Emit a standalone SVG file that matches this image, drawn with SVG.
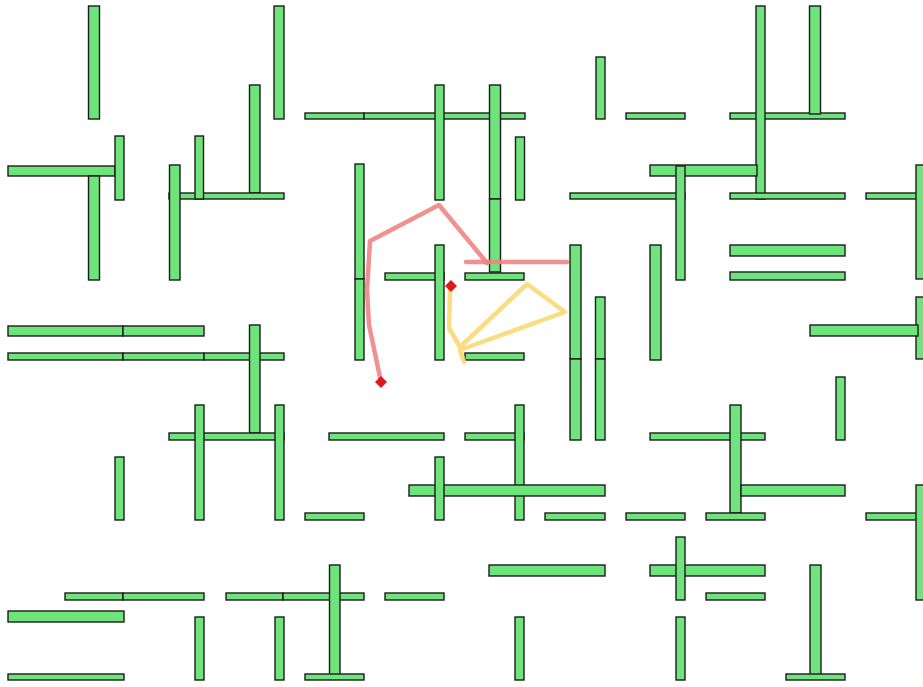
<svg xmlns="http://www.w3.org/2000/svg" width="923" height="687" viewBox="0 0 923 687">
<style>
.w{fill:#6fe47c;stroke:#1c1c1c;stroke-width:1.4}
.red{fill:none;stroke:#f08484;stroke-width:4.5;stroke-linejoin:round;stroke-linecap:round;opacity:0.9}
.yel{fill:none;stroke:#fbd872;stroke-width:4.5;stroke-linejoin:round;stroke-linecap:round;opacity:0.9}
.mk{fill:#e01820}
</style>
<rect width="923" height="687" fill="#ffffff"/>
<g id="walls">
<rect class="w" x="88.5" y="6" width="11" height="113"/>
<rect class="w" x="274" y="6" width="10" height="113"/>
<rect class="w" x="305" y="113" width="59" height="6"/>
<rect class="w" x="364" y="113" width="161" height="6"/>
<rect class="w" x="435" y="85" width="9" height="115"/>
<rect class="w" x="489.5" y="85" width="11" height="114"/>
<rect class="w" x="489.5" y="199" width="11" height="73"/>
<rect class="w" x="515.5" y="137" width="9" height="63"/>
<rect class="w" x="596" y="57" width="9" height="62"/>
<rect class="w" x="626" y="113" width="59" height="6"/>
<rect class="w" x="730" y="113" width="115" height="6"/>
<rect class="w" x="756" y="6" width="9" height="193"/>
<rect class="w" x="809.5" y="6" width="11" height="108"/>
<rect class="w" x="249.5" y="85" width="10.5" height="108"/>
<rect class="w" x="8" y="166" width="107" height="10"/>
<rect class="w" x="115" y="136" width="9" height="64"/>
<rect class="w" x="88.5" y="176" width="11" height="104"/>
<rect class="w" x="169" y="193" width="115" height="6"/>
<rect class="w" x="169.5" y="165" width="10.5" height="115"/>
<rect class="w" x="195" y="136" width="8.5" height="63"/>
<rect class="w" x="355" y="164" width="9" height="115"/>
<rect class="w" x="355" y="279" width="9" height="81"/>
<rect class="w" x="650" y="165" width="107" height="11"/>
<rect class="w" x="570" y="193" width="115" height="6"/>
<rect class="w" x="676" y="166" width="9" height="114"/>
<rect class="w" x="730" y="193" width="115" height="6"/>
<rect class="w" x="866" y="193" width="60" height="6"/>
<rect class="w" x="916" y="165" width="11" height="114"/>
<rect class="w" x="385" y="273" width="59" height="7"/>
<rect class="w" x="435" y="245" width="9" height="115"/>
<rect class="w" x="465" y="273" width="59" height="7"/>
<rect class="w" x="465" y="353" width="59" height="7"/>
<rect class="w" x="570" y="245" width="11" height="114"/>
<rect class="w" x="570" y="359" width="11" height="81"/>
<rect class="w" x="595.5" y="297" width="9.5" height="62"/>
<rect class="w" x="595.5" y="359" width="9.5" height="81"/>
<rect class="w" x="650" y="245" width="11" height="115"/>
<rect class="w" x="730" y="245" width="115" height="11"/>
<rect class="w" x="730" y="272" width="115" height="8"/>
<rect class="w" x="916" y="297" width="11" height="62"/>
<rect class="w" x="810" y="325" width="108" height="11"/>
<rect class="w" x="8" y="326" width="115" height="10"/>
<rect class="w" x="123" y="326" width="81" height="10"/>
<rect class="w" x="8" y="353" width="115" height="7"/>
<rect class="w" x="123" y="353" width="81" height="7"/>
<rect class="w" x="204" y="353" width="80" height="7"/>
<rect class="w" x="249.5" y="325" width="10.5" height="108"/>
<rect class="w" x="836" y="377" width="9" height="63"/>
<rect class="w" x="169" y="433" width="115" height="7"/>
<rect class="w" x="195" y="405" width="9" height="115"/>
<rect class="w" x="275" y="405" width="9" height="115"/>
<rect class="w" x="329" y="433" width="115" height="7"/>
<rect class="w" x="465" y="433" width="59" height="7"/>
<rect class="w" x="515" y="405" width="9" height="115"/>
<rect class="w" x="650" y="433" width="115" height="7"/>
<rect class="w" x="730" y="405" width="11" height="108"/>
<rect class="w" x="115" y="457" width="9" height="63"/>
<rect class="w" x="409" y="485" width="196" height="11"/>
<rect class="w" x="435" y="457" width="9" height="63"/>
<rect class="w" x="305" y="513" width="59" height="7"/>
<rect class="w" x="545" y="513" width="60" height="7"/>
<rect class="w" x="626" y="513" width="59" height="7"/>
<rect class="w" x="741" y="485" width="104" height="11"/>
<rect class="w" x="706" y="513" width="59" height="7"/>
<rect class="w" x="866" y="513" width="60" height="7"/>
<rect class="w" x="916" y="485" width="11" height="115"/>
<rect class="w" x="489" y="565" width="116" height="11"/>
<rect class="w" x="650" y="565" width="115" height="11"/>
<rect class="w" x="676" y="537" width="9" height="63"/>
<rect class="w" x="65" y="593" width="58" height="7"/>
<rect class="w" x="123" y="593" width="81" height="7"/>
<rect class="w" x="226" y="593" width="57" height="7"/>
<rect class="w" x="283" y="593" width="81" height="7"/>
<rect class="w" x="385" y="593" width="59" height="7"/>
<rect class="w" x="329.5" y="565" width="10.5" height="110"/>
<rect class="w" x="8" y="611" width="116" height="11"/>
<rect class="w" x="195" y="617" width="9" height="63"/>
<rect class="w" x="8" y="674" width="116" height="6"/>
<rect class="w" x="275" y="617" width="9" height="63"/>
<rect class="w" x="305" y="674" width="59" height="6"/>
<rect class="w" x="515" y="617" width="9" height="63"/>
<rect class="w" x="676" y="617" width="9" height="63"/>
<rect class="w" x="706" y="593" width="59" height="7"/>
<rect class="w" x="810" y="565" width="11" height="110"/>
<rect class="w" x="786" y="674" width="59" height="6"/>
</g>
<g id="paths">
<polyline class="red" points="381,382 369,325 367,290 370,241 439,205 487,263"/>
<polyline class="red" points="466,262 567,262"/>
<polyline class="yel" points="450,288 449,328 460,347 527,284 565,312 460,350 464,362"/>
<path class="mk" d="M381,376 L384,379 L387,382 L384,385 L381,388 L378,385 L375,382 L378,379 Z"/>
<path class="mk" d="M451,280 L454,283 L457,286 L454,289 L451,292 L448,289 L445,286 L448,283 Z"/>
</g>
</svg>
